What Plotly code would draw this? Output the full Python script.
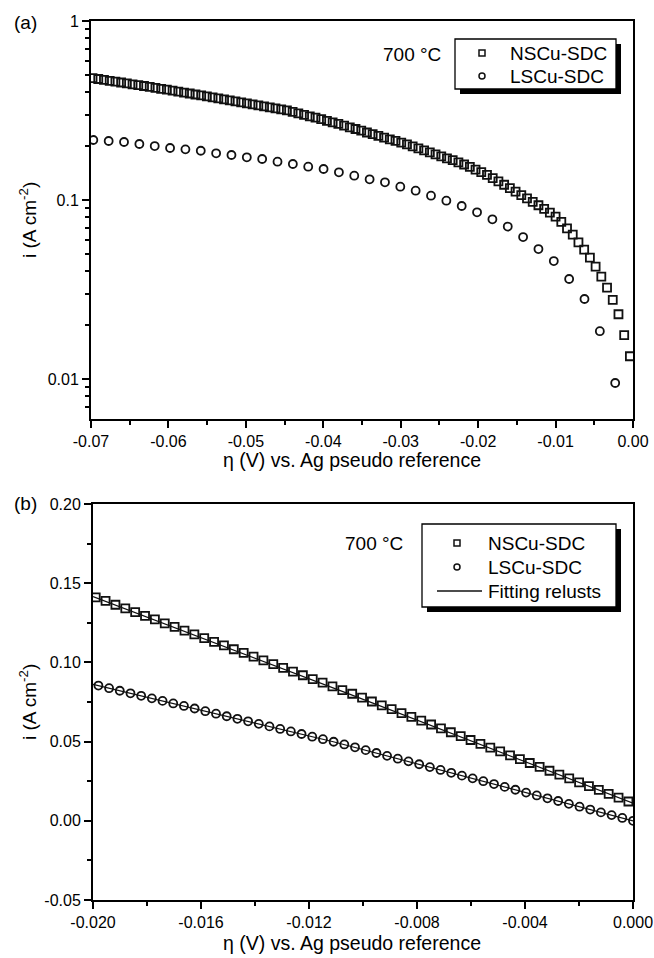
import numpy as np
import plotly.graph_objects as go

# ---------------- data ----------------
# (a) Tafel-type plot, 700 C
top_ns_x = np.linspace(-0.0698, -0.0004, 95)   # sample potentials (V)
top_ns_i = [0.4791, 0.4742, 0.4687, 0.4633, 0.4586, 0.4533, 0.4481, 0.4430, 0.4384, 0.4334,
            0.4284, 0.4235, 0.4180, 0.4132, 0.4080, 0.4032, 0.3981, 0.3935, 0.3885, 0.3840,
            0.3791, 0.3747, 0.3699, 0.3652, 0.3605, 0.3559, 0.3514, 0.3469, 0.3424, 0.3381,
            0.3337, 0.3295, 0.3253, 0.3211, 0.3166, 0.3106, 0.3051, 0.2992, 0.2935, 0.2883,
            0.2827, 0.2770, 0.2717, 0.2661, 0.2604, 0.2547, 0.2493, 0.2439, 0.2383, 0.2331,
            0.2281, 0.2231, 0.2183, 0.2139, 0.2092, 0.2045, 0.1995, 0.1944, 0.1895, 0.1844,
            0.1797, 0.1752, 0.1710, 0.1669, 0.1624, 0.1579, 0.1533, 0.1480, 0.1430, 0.1381,
            0.1325, 0.1270, 0.1217, 0.1164, 0.1114, 0.1066, 0.1021, 0.0977, 0.0935, 0.0892,
            0.0851, 0.0808, 0.0755, 0.0695, 0.0641, 0.0580, 0.0528, 0.0477, 0.0424, 0.0373,
            0.0324, 0.0277, 0.0230, 0.0176, 0.0134]

top_ls_x = np.linspace(-0.0697, -0.0023, 35)
top_ls_i = [0.2164, 0.2136, 0.2109, 0.2055, 0.2002, 0.1952, 0.1919, 0.1885, 0.1823, 0.1784,
            0.1732, 0.1695, 0.1637, 0.1589, 0.1535, 0.1490, 0.1428, 0.1367, 0.1305, 0.1256,
            0.1187, 0.1127, 0.1057, 0.0991, 0.0926, 0.0854, 0.0780, 0.0711, 0.0621, 0.0532,
            0.0456, 0.0362, 0.0280, 0.0185, 0.0095]

# (b) linear region
bot_ns_x = np.linspace(-0.0199, -0.00017, 55)
bot_ns_i = [0.1411, 0.1388, 0.1364, 0.1341, 0.1318, 0.1294, 0.1271, 0.1247, 0.1224, 0.1200,
            0.1177, 0.1153, 0.1130, 0.1107, 0.1083, 0.1060, 0.1036, 0.1013, 0.0989, 0.0966,
            0.0942, 0.0919, 0.0895, 0.0872, 0.0849, 0.0825, 0.0802, 0.0778, 0.0753, 0.0729,
            0.0705, 0.0680, 0.0656, 0.0632, 0.0608, 0.0583, 0.0559, 0.0535, 0.0510, 0.0486,
            0.0462, 0.0438, 0.0413, 0.0389, 0.0365, 0.0340, 0.0316, 0.0292, 0.0268, 0.0243,
            0.0219, 0.0195, 0.0170, 0.0146, 0.0122]

bot_ls_x = np.linspace(-0.0198, 0.0, 51)
bot_ls_i = [0.0854, 0.0837, 0.0821, 0.0805, 0.0789, 0.0773, 0.0757, 0.0741, 0.0725, 0.0709,
            0.0692, 0.0676, 0.0660, 0.0644, 0.0628, 0.0612, 0.0596, 0.0580, 0.0564, 0.0548,
            0.0531, 0.0515, 0.0499, 0.0482, 0.0464, 0.0446, 0.0428, 0.0410, 0.0392, 0.0375,
            0.0357, 0.0339, 0.0321, 0.0303, 0.0285, 0.0268, 0.0250, 0.0232, 0.0214, 0.0196,
            0.0178, 0.0160, 0.0142, 0.0125, 0.0107, 0.0089, 0.0071, 0.0053, 0.0036, 0.0018,
            0.0000]

fit_ns_x = [-0.020, -0.0105, 0.0]
fit_ns_i = [0.1415, 0.0800, 0.0111]
fit_ls_x = [-0.020, -0.0111, 0.0]
fit_ls_i = [0.0862, 0.0499, 0.0000]

# tick labels
top_xticks = [-0.07, -0.06, -0.05, -0.04, -0.03, -0.02, -0.01, 0.0]
top_xlabels = ["-0.07", "-0.06", "-0.05", "-0.04", "-0.03", "-0.02", "-0.01", "0.00"]
top_yticks = [0.01, 0.1, 1]
top_ylabels = ["0.01", "0.1", "1"]
top_yminor = [0.007, 0.008, 0.009, 0.02, 0.03, 0.04, 0.05, 0.06, 0.07, 0.08, 0.09,
              0.2, 0.3, 0.4, 0.5, 0.6, 0.7, 0.8, 0.9]
bot_xticks = [-0.020, -0.016, -0.012, -0.008, -0.004, 0.0]
bot_xlabels = ["-0.020", "-0.016", "-0.012", "-0.008", "-0.004", "0.000"]
bot_yticks = [-0.05, 0.0, 0.05, 0.10, 0.15, 0.20]
bot_ylabels = ["-0.05", "0.00", "0.05", "0.10", "0.15", "0.20"]

# ---------------- figure ----------------
W, H = 654, 958
FONT = "Liberation Sans, Arial, sans-serif"
INK = "#111111"


def px(x):
    return x / W


def py(y):
    return 1 - y / H


fig = go.Figure()

sq = dict(symbol="square-open", size=8, color=INK, line=dict(width=1.8, color=INK))
ci = dict(symbol="circle-open", size=8, color=INK, line=dict(width=1.8, color=INK))

fig.add_trace(go.Scatter(x=top_ns_x, y=top_ns_i, mode="markers", marker=sq,
                         xaxis="x", yaxis="y", showlegend=False))
fig.add_trace(go.Scatter(x=top_ls_x, y=top_ls_i, mode="markers", marker=ci,
                         xaxis="x", yaxis="y", showlegend=False))
fig.add_trace(go.Scatter(x=bot_ns_x, y=bot_ns_i, mode="markers", marker=sq,
                         xaxis="x2", yaxis="y2", showlegend=False))
fig.add_trace(go.Scatter(x=bot_ls_x, y=bot_ls_i, mode="markers", marker=ci,
                         xaxis="x2", yaxis="y2", showlegend=False))
fig.add_trace(go.Scatter(x=fit_ns_x, y=fit_ns_i, mode="lines", line=dict(color=INK, width=1.2),
                         xaxis="x2", yaxis="y2", showlegend=False))
fig.add_trace(go.Scatter(x=fit_ls_x, y=fit_ls_i, mode="lines", line=dict(color=INK, width=1.2),
                         xaxis="x2", yaxis="y2", showlegend=False))

axis_common = dict(showline=True, linecolor="black", linewidth=2, mirror=True,
                   ticks="outside", ticklen=7, tickwidth=1.8, tickcolor="black",
                   showgrid=False, zeroline=False, automargin=False,
                   tickfont=dict(family=FONT, size=16, color="black"))

top_x_dom = [px(91), px(633)]
bot_x_dom = [px(93), px(633)]

fig.update_layout(
    width=W, height=H,
    margin=dict(l=0, r=0, t=0, b=0, autoexpand=False),
    paper_bgcolor="white", plot_bgcolor="white",
    showlegend=False,
    xaxis=dict(domain=top_x_dom, anchor="y", range=[-0.07, 0.0],
               tickmode="array", tickvals=top_xticks, ticktext=top_xlabels,
               minor=dict(tickmode="array", tickvals=[-0.065, -0.055, -0.045, -0.035, -0.025, -0.015, -0.005],
                          ticks="outside", ticklen=4, tickwidth=1.8, tickcolor="black"),
               **axis_common),
    yaxis=dict(domain=[py(419), py(21)], anchor="x", type="log", range=[np.log10(0.00598), 0],
               tickmode="array", tickvals=top_yticks, ticktext=top_ylabels,
               minor=dict(tickmode="array", tickvals=top_yminor,
                          ticks="outside", ticklen=4, tickwidth=1.8, tickcolor="black"),
               **axis_common),
    xaxis2=dict(domain=bot_x_dom, anchor="y2", range=[-0.020, 0.0],
                tickmode="array", tickvals=bot_xticks, ticktext=bot_xlabels,
                minor=dict(tickmode="array", tickvals=[-0.018, -0.014, -0.010, -0.006, -0.002],
                           ticks="outside", ticklen=4, tickwidth=1.8, tickcolor="black"),
                **axis_common),
    yaxis2=dict(domain=[py(900), py(504)], anchor="x2", range=[-0.05, 0.20],
                tickmode="array", tickvals=bot_yticks, ticktext=bot_ylabels,
                minor=dict(tickmode="array", tickvals=[-0.025, 0.025, 0.075, 0.125, 0.175],
                           ticks="outside", ticklen=4, tickwidth=1.8, tickcolor="black"),
                **axis_common),
)

ann = []
shapes = []


def text(x, y, s, size=19, xanchor="center", angle=0):
    ann.append(dict(x=px(x), y=py(y), xref="paper", yref="paper", text=s, showarrow=False,
                    xanchor=xanchor, yanchor="middle", textangle=angle,
                    font=dict(family=FONT, size=size, color="black")))


# panel labels
text(25, 22, "(a)")
text(25, 503, "(b)")

# axis titles
text(28, 220, "i (A cm<sup>-2</sup>)", angle=-90)
text(28, 702, "i (A cm<sup>-2</sup>)", angle=-90)
text(352, 460, "η (V) vs. Ag pseudo reference", size=19.5)
text(352, 943, "η (V) vs. Ag pseudo reference", size=19.5)

# temperature labels
text(412, 55, "700 °C")
text(374, 543, "700 °C")


def legend_box(x0, y0, x1, y1, off=5):
    shapes.append(dict(type="rect", xref="paper", yref="paper", layer="above",
                       x0=px(x0 + off), x1=px(x1 + off), y0=py(y1 + off), y1=py(y0 + off),
                       fillcolor="black", line=dict(width=0)))
    shapes.append(dict(type="rect", xref="paper", yref="paper", layer="above",
                       x0=px(x0), x1=px(x1), y0=py(y1), y1=py(y0),
                       fillcolor="white", line=dict(color="black", width=1.3)))


def key_square(cx, cy, s=6):
    shapes.append(dict(type="rect", xref="paper", yref="paper", layer="above",
                       x0=px(cx - s / 2), x1=px(cx + s / 2), y0=py(cy + s / 2), y1=py(cy - s / 2),
                       fillcolor="white", line=dict(color=INK, width=1.5)))


def key_circle(cx, cy, s=6):
    shapes.append(dict(type="circle", xref="paper", yref="paper", layer="above",
                       x0=px(cx - s / 2), x1=px(cx + s / 2), y0=py(cy + s / 2), y1=py(cy - s / 2),
                       fillcolor="white", line=dict(color=INK, width=1.5)))


def key_line(x0, x1, cy):
    shapes.append(dict(type="line", xref="paper", yref="paper", layer="above",
                       x0=px(x0), x1=px(x1), y0=py(cy), y1=py(cy),
                       line=dict(color=INK, width=1.3)))


# legend (a)
legend_box(455, 39, 616, 89)
key_square(482, 53)
key_circle(482, 76)
text(508, 53, "NSCu-SDC", xanchor="left")
text(508, 76, "LSCu-SDC", xanchor="left")

# legend (b)
legend_box(422, 524, 616, 607)
key_square(457, 543)
key_circle(457, 567)
key_line(437, 482, 591)
text(486, 543, "NSCu-SDC", xanchor="left")
text(486, 567, "LSCu-SDC", xanchor="left")
text(486, 591, "Fitting relusts", xanchor="left")

fig.update_layout(annotations=ann, shapes=shapes)

# remove the browser's default page margin so the figure sits at the window origin
fig.write_html("out.html", config={"displayModeBar": False},
               post_script="document.body.style.margin='0px';")
